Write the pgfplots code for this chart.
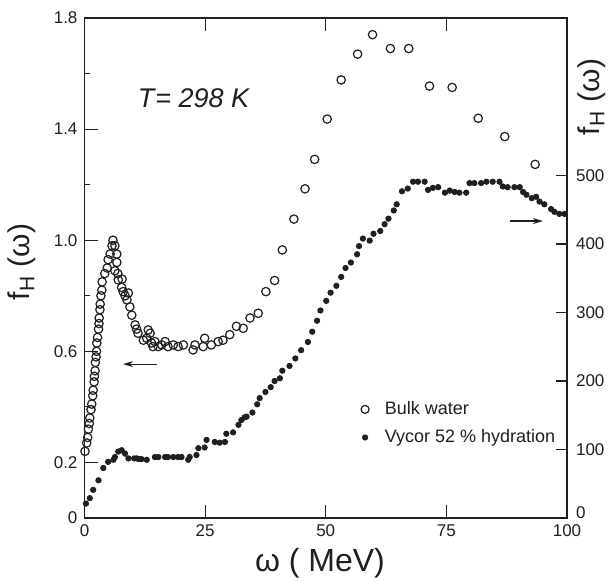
\documentclass[border=0pt]{standalone}
\usepackage{fontspec}
\setmainfont{Liberation Sans}
\usepackage{pgfplots}
\pgfplotsset{compat=1.18}
\usetikzlibrary{arrows.meta,calc}
\definecolor{ink}{gray}{0.12}

\pgfplotstableread{
x y
0.1 0.24
0.45 0.27
0.66 0.29
0.8 0.32
1.0 0.34
1.1 0.36
1.35 0.39
1.5 0.41
1.7 0.44
1.8 0.46
2.0 0.49
2.05 0.51
2.2 0.53
2.25 0.56
2.4 0.58
2.5 0.60
2.55 0.63
2.7 0.65
2.9 0.68
3.0 0.70
3.05 0.72
3.2 0.75
3.25 0.77
3.4 0.80
3.6 0.82
3.65 0.85
4.2 0.88
4.7 0.90
4.9 0.93
5.3 0.95
5.7 0.98
5.9 1.0
6.3 0.98
6.7 0.95
6.7 0.92
6.3 0.89
6.9 0.88
7.0 0.857
7.8 0.86
7.7 0.83
8.0 0.815
8.4 0.80
8.8 0.785
9.1 0.81
9.4 0.76
9.8 0.73
10.5 0.695
10.8 0.68
11.1 0.665
12.2 0.64
12.9 0.647
13.2 0.677
13.6 0.665
13.9 0.63
14.2 0.617
14.6 0.635
15.3 0.617
16.0 0.623
16.7 0.635
17.3 0.617
18.4 0.623
19.4 0.617
20.5 0.623
22.5 0.605
22.9 0.623
24.6 0.617
24.9 0.647
26.3 0.623
27.7 0.635
28.7 0.64
30.1 0.66
31.5 0.69
32.9 0.683
34.3 0.72
36.0 0.737
37.6 0.815
39.4 0.855
41.0 0.965
43.4 1.076
45.7 1.185
47.7 1.291
50.3 1.436
53.2 1.577
56.6 1.67
59.7 1.74
63.4 1.69
67.2 1.69
71.5 1.555
76.2 1.55
81.6 1.439
87.1 1.373
93.4 1.273
}\bulk

\pgfplotstableread{
x y
0.3 21
1.1 29
1.8 41
2.9 55
3.9 73
4.9 82
6.0 85
6.3 89
7.0 97
7.7 99
8.4 94
9.1 87
10.3 87
10.8 87
11.3 86
11.8 86
12.9 85
14.6 89
15.3 89
16.7 89
17.3 89
18.4 89
19.4 89
20.1 89
21.5 85
21.8 89
23.2 92
23.6 102
24.9 103
25.3 114
27.0 111
28.0 110
29.1 111
29.4 123
30.8 125
31.9 136
32.5 143
33.2 147
33.6 148
34.8 154
35.8 166
36.3 175
37.5 184
38.6 191
39.4 200
40.5 204
41.0 215
42.5 222
43.7 233
44.9 245
46.3 257
47.2 272
48.2 288
48.9 303
50.1 317
51.0 329
52.2 339
53.2 352
54.1 365
55.2 373
56.5 385
56.9 397
57.7 408
59.1 405
59.9 415
61.3 419
62.2 429
63.0 437
64.1 449
64.7 458
65.8 477
67.0 481
68.1 491
69.1 491
70.5 491
71.2 479
72.2 482
73.3 483
74.7 475
75.7 478
76.7 476
77.7 475
79.1 475
79.8 489
80.8 489
82.2 489
83.3 491
84.6 491
86.0 491
86.7 484
87.7 483
89.1 483
90.2 483
90.9 476
91.6 472
92.7 467
93.6 469
94.3 462
95.3 458
96.7 451
97.4 447
98.4 444
99.5 444
}\vycor

\begin{document}
\begin{tikzpicture}
\pgfplotsset{
  every axis/.append style={
    scale only axis, width=241.25pt, height=250pt,
    xmin=0, xmax=100,
    axis line style={ink, line width=0.6pt},
    every tick/.style={ink, line width=0.6pt},
    tick align=inside,
    ticklabel style={font=\fontsize{8.5}{10}\selectfont, text=ink},
  },
}
\begin{axis}[
  name=ax,
  ymin=0, ymax=1.8,
  xtick={0,25,50,75,100}, xticklabels={0,25,50,75,100},
  xtick pos=both,
  ytick={0,0.2,0.6,1.0,1.4,1.8}, yticklabels={0,0.2,0.6,1.0,1.4,1.8},
  minor ytick={0.4,0.8,1.2,1.6},
  ytick pos=left,
  major tick length=6.5pt, minor tick length=3pt,
  clip=false,
]
\addplot[only marks, mark=o, mark size=2.1pt, mark options={ink, line width=0.6pt}] table {\bulk};
\node[font=\itshape\fontsize{13.5}{15}\selectfont, text=ink] at (axis cs:22.6,1.512) {T\kern0.5pt= 298 K};
\draw[ink, line width=0.6pt, -{Stealth[length=5pt,width=3pt]}] (axis cs:15,0.554) -- (axis cs:8,0.554);
\draw[ink, line width=0.6pt, -{Stealth[length=5pt,width=3pt]}] (axis cs:88.1,1.069) -- (axis cs:95,1.069);
\node[rotate=90, font=\fontsize{15}{17}\selectfont, text=ink] at (rel axis cs:-0.1295,0.512) {f\textsubscript{H} (ω)};
\node[font=\fontsize{16}{18}\selectfont, text=ink] at (rel axis cs:0.488,-0.09) {ω ( MeV)};
\node[rotate=90, font=\fontsize{15}{17}\selectfont, text=ink] at (rel axis cs:1.052,0.842) {f\textsubscript{H} (ω)};
\end{axis}
\begin{axis}[
  ymin=0, ymax=730,
  axis x line=none,
  axis y line*=right,
  ytick={0,100,200,300,400,500}, yticklabels={\raisebox{5pt}{0},100,200,300,400,500},
  yticklabel style={xshift=1pt},
  major tick length=5.5pt,
  legend image code/.code={\path (0cm,0cm) (0.27cm,0cm); \draw[#1] plot coordinates {(0cm,0cm)};},
  legend style={at={(rel axis cs:0.56,0.25)}, anchor=north west, draw=none, fill=none,
    font=\fontsize{9}{11}\selectfont, text=ink, row sep=2pt},
  legend cell align=left,
]
\addlegendimage{only marks, mark=o, mark size=2pt, mark options={ink, line width=0.6pt}}
\addlegendentry{Bulk water}
\addplot[only marks, mark=*, mark size=1.35pt, ink] table {\vycor};
\addlegendentry{Vycor 52 \% hydration}
\end{axis}
\pgfresetboundingbox
\path ($(ax.south west)+(-42.25pt,-32pt)$) rectangle ($(ax.north east)+(22pt,9pt)$);
\end{tikzpicture}
\end{document}
